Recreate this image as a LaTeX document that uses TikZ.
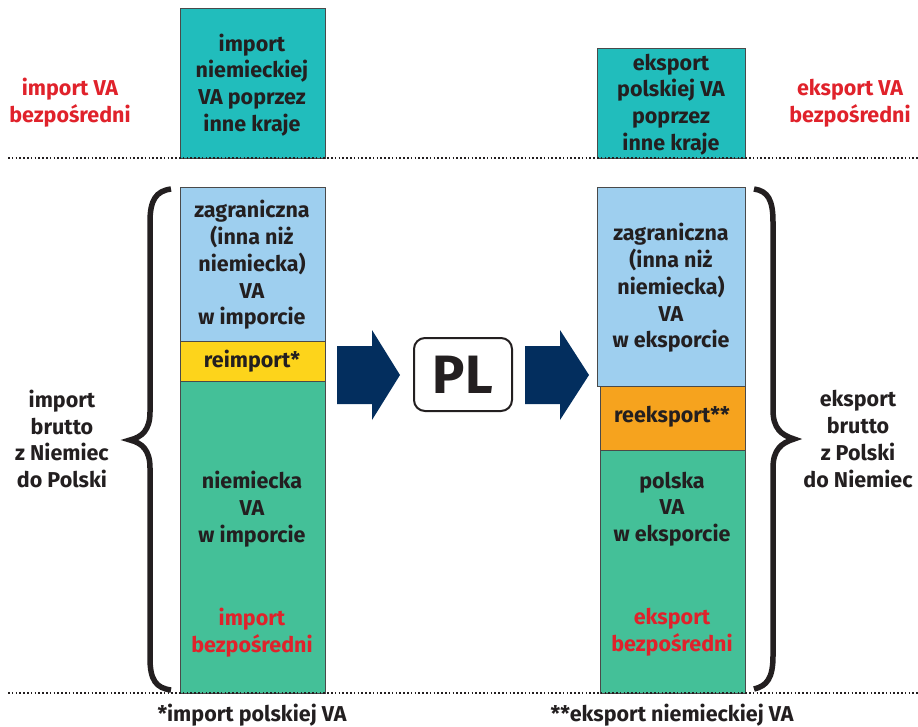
\documentclass[tikz,border=0pt]{standalone}
\usepackage{fontspec}
\setmainfont{Fira Sans}
\usetikzlibrary{positioning}
\definecolor{TealBox}{HTML}{21BDBC}
\definecolor{SkyBox}{HTML}{9ECFEF}
\definecolor{YellowBox}{HTML}{FDD41B}
\definecolor{GreenBox}{HTML}{44C098}
\definecolor{OrangeBox}{HTML}{F6A31E}
\definecolor{NavyArrow}{HTML}{032E5E}
\definecolor{RedText}{HTML}{E0222B}
\definecolor{TextGray}{HTML}{231F20}
\definecolor{BoxLine}{HTML}{4A4A4A}

\begin{document}
\begin{tikzpicture}[x=1pt, y=-1pt,
	box/.style={draw=BoxLine, line width=0.8pt, inner sep=0pt, anchor=north west},
	lbl/.style={font=\bfseries\fontsize{21.5}{26.7}\selectfont, text=TextGray, align=center, inner sep=0pt},
	redlbl/.style={lbl, text=RedText},
	brace/.style={line width=5.5pt, TextGray},
	sep/.style={line width=1.6pt, TextGray, dash pattern=on 1.6pt off 2.2pt}
]
	\useasboundingbox (0,0) rectangle (918,726);
	% upper boxes
	\node[box, fill=TealBox, minimum width=145, minimum height=150] (impTop) at (180,8) {};
	\node[box, fill=TealBox, minimum width=148, minimum height=110] (eksTop) at (597,48) {};
	% import column
	\node[box, fill=SkyBox, minimum width=145, minimum height=154] (impFor) at (180,187) {};
	\node[box, fill=YellowBox, minimum width=145, minimum height=40] (impRe) at (180,341) {};
	\node[box, fill=GreenBox, minimum width=145, minimum height=312] (impDe) at (180,381) {};
	% export column
	\node[box, fill=SkyBox, minimum width=148, minimum height=199] (eksFor) at (597,187) {};
	\node[box, fill=OrangeBox, minimum width=145, minimum height=64] (eksRe) at (600,386) {};
	\node[box, fill=GreenBox, minimum width=145, minimum height=243] (eksPl) at (600,450) {};
	% separators
	\draw[sep] (8,158) -- (918,158);
	\draw[sep] (8,693) -- (918,693);
	% texts
	\node[redlbl] (impVA) at (70,103) {import VA\\bezpośredni};
	\node[redlbl] (eksVA) at (850,103) {eksport VA\\bezpośredni};
	\node[lbl] (impTopTxt) at (252,85) {import\\niemieckiej\\VA poprzez\\inne kraje};
	\node[lbl] (eksTopTxt) at (671,104.5) {eksport\\polskiej VA\\poprzez\\inne kraje};
	\node[lbl] (impForTxt) at (252,265) {zagraniczna\\(inna niż\\niemiecka)\\VA\\w imporcie};
	\node[lbl] (impReTxt) at (252,361) {reimport*};
	\node[lbl] (impDeTxt) at (252,509) {niemiecka\\VA\\w imporcie};
	\node[redlbl] (impDir) at (252,632.5) {import\\bezpośredni};
	\node[lbl] (eksForTxt) at (671,288) {zagraniczna\\(inna niż\\niemiecka)\\VA\\w eksporcie};
	\node[lbl] (eksReTxt) at (672,417) {reeksport**};
	\node[lbl] (eksPlTxt) at (672,509) {polska\\VA\\w eksporcie};
	\node[redlbl] (eksDir) at (672,632.5) {eksport\\bezpośredni};
	\node[lbl] (impGross) at (62,439) {import\\brutto\\z Niemiec\\do Polski};
	\node[lbl] (eksGross) at (858,439) {eksport\\brutto\\z Polski\\do Niemiec};
	\node[lbl] (impNote) at (252,715) {*import polskiej VA};
	\node[lbl] (eksNote) at (672,715) {**eksport niemieckiej VA};
	% PL
	\node[draw=TextGray, line width=2pt, rounded corners=11pt, minimum width=98, minimum height=73,
		font=\bfseries\fontsize{54}{54}\selectfont, text=TextGray, inner sep=0pt] (pl) at (463,374.5) {PL};
	% arrows
	\fill[NavyArrow] (337,346) -- (372,346) -- (372,330) -- (400,375) -- (372,420) -- (372,404) -- (337,404) -- cycle;
	\fill[NavyArrow] (525,346) -- (560,346) -- (560,330) -- (589,375) -- (560,420) -- (560,404) -- (525,404) -- cycle;
	% braces
	\draw[brace] (171,189) .. controls (156,191) and (150,200) .. (150,222) -- (150,412)
		.. controls (150,430) and (142,437) .. (130,440)
		.. controls (142,443) and (150,450) .. (150,468) -- (150,658)
		.. controls (150,680) and (156,688) .. (171,690);
	\draw[brace] (754,189) .. controls (768,191) and (773,200) .. (773,222) -- (773,410)
		.. controls (773,428) and (781,435) .. (794,439)
		.. controls (781,443) and (773,450) .. (773,468) -- (773,656)
		.. controls (773,678) and (767,686) .. (754,689);
\end{tikzpicture}
\end{document}
